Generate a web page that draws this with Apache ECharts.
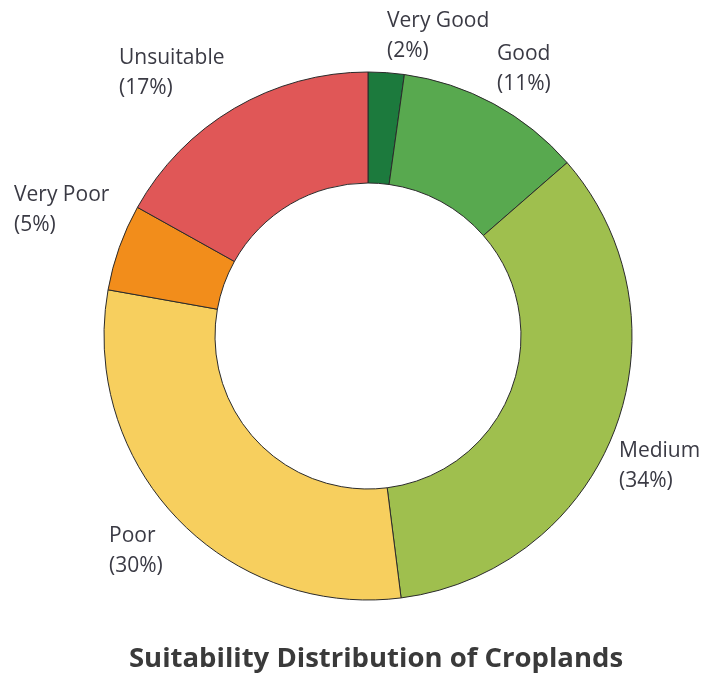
<!DOCTYPE html>
<html>
<head>
<meta charset="utf-8">
<style>
  html, body { margin: 0; padding: 0; background: #ffffff; }
  #chart { width: 706px; height: 676px; }
</style>
<script src="https://cdn.jsdelivr.net/npm/echarts@6/dist/echarts.min.js"></script>
</head>
<body>
<div id="chart"></div>
<script>
// Suitability classes, clockwise from 12 o'clock
const categories = ['Very Good', 'Good', 'Medium', 'Poor', 'Very Poor', 'Unsuitable'];
// Share of cropland area in each class (%)
const shares = [2.2, 11.4, 34.4, 29.8, 5.3, 16.9];
const colors = ['#1c7a3d', '#58a94f', '#9fbf4e', '#f7cf5e', '#f28d1b', '#e05757'];
const titleText = 'Suitability Distribution of Croplands';

// Top-left corner of each two-line label block
const labelAnchors = [
  [387, 6], [497, 39], [619, 436], [109, 521], [14, 180], [119, 43]
];

const chart = echarts.init(document.getElementById('chart'), null, { renderer: 'canvas' });

chart.setOption({
  backgroundColor: '#ffffff',
  animation: false,
  title: {
    text: titleText,
    left: 376,
    textAlign: 'center',
    top: 645,
    padding: 0,
    textStyle: {
      fontFamily: 'Open Sans',
      fontWeight: 'bold',
      fontSize: 27.5,
      color: '#3a3a3a'
    }
  },
  series: [{
    type: 'pie',
    center: [368, 336],
    radius: [153, 264],
    startAngle: 90,
    clockwise: true,
    avoidLabelOverlap: false,
    data: categories.map((name, i) => ({
      name,
      value: shares[i],
      itemStyle: { color: colors[i] }
    })),
    itemStyle: { borderColor: '#2b2b2b', borderWidth: 1 },
    label: {
      show: true,
      position: 'outside',
      formatter: p => p.name + '\n(' + Math.round(p.value) + '%)',
      fontFamily: 'Open Sans',
      fontSize: 21,
      lineHeight: 30,
      color: '#3a3a44',
      align: 'left'
    },
    labelLine: { show: false },
    labelLayout: p => ({
      x: labelAnchors[p.dataIndex][0],
      y: labelAnchors[p.dataIndex][1],
      align: 'left',
      verticalAlign: 'top'
    }),
    emphasis: { disabled: true }
  }]
});
</script>
</body>
</html>
